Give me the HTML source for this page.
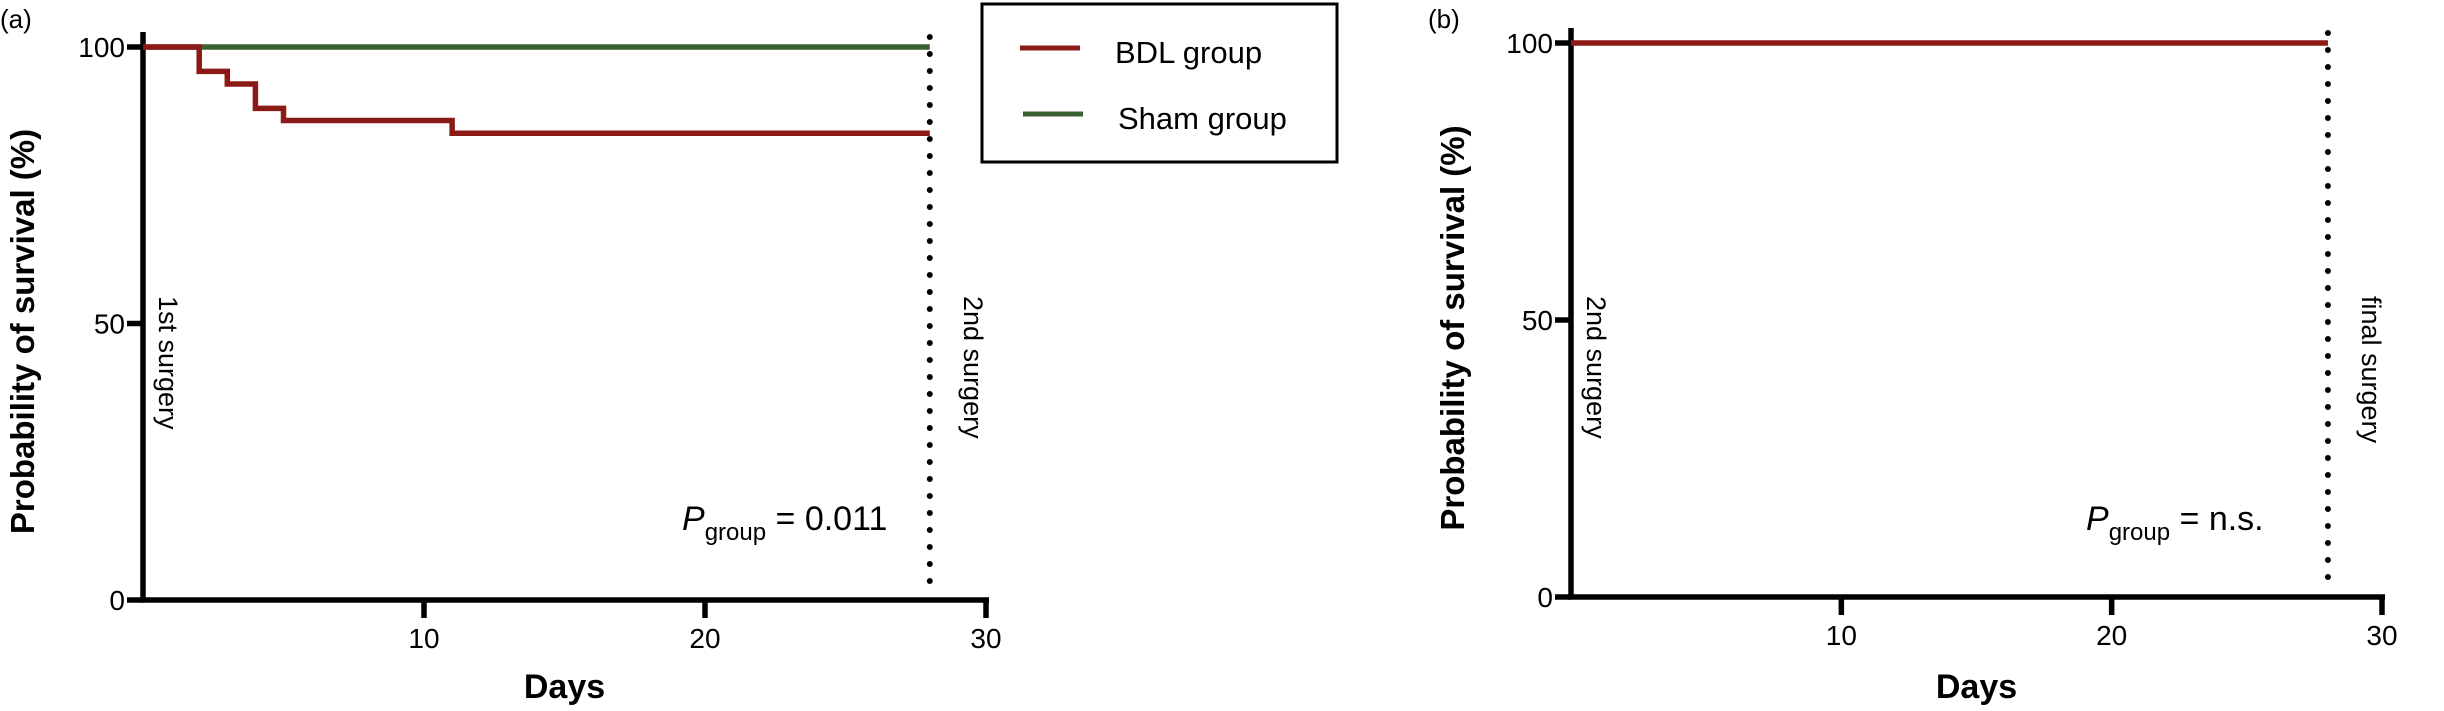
<!DOCTYPE html>
<html><head><meta charset="utf-8"><style>
html,body{margin:0;padding:0;background:#fff;}
svg{display:block;font-family:"Liberation Sans",Arial,sans-serif;}
</style></head><body>
<svg id="chart" width="2444" height="711" viewBox="0 0 2444 711">
<g id="panelA"></g>
<g id="panelB"></g>
<g>
  <rect x="982" y="4" width="355" height="158" fill="none" stroke="#000" stroke-width="3"/>
  <line x1="1020" y1="48" x2="1080" y2="48" stroke="#8b1a17" stroke-width="5"/>
  <text x="1115" y="63" font-size="31">BDL group</text>
  <line x1="1023" y1="114" x2="1083" y2="114" stroke="#3c6130" stroke-width="5"/>
  <text x="1118" y="129" font-size="31">Sham group</text>
</g>
</svg>
<script>
const xTicks=[10,20,30];
const yTicks=[0,50,100];
const bdlDaysA=[0,2,3,4,5,11,28];
const bdlSurvA=[100,95.6,93.3,88.9,86.7,84.4,84.4];
const shamDaysA=[0,28];
const shamSurvA=[100,100];
const bdlDaysB=[0,28];
const bdlSurvB=[100,100];
const NS="http://www.w3.org/2000/svg";
function mk(parent,tag,attrs,text){const e=document.createElementNS(NS,tag);for(const k in attrs)e.setAttribute(k,attrs[k]);if(text!==undefined)e.textContent=text;parent.appendChild(e);return e;}
function stepPath(xs,ys,sx,sy){let d="M"+sx(xs[0])+","+sy(ys[0]);for(let i=1;i<xs.length;i++){d+=" H"+sx(xs[i])+" V"+sy(ys[i]);}return d;}
function panel(g,cfg){
  const sx=v=>cfg.x0+(cfg.x1-cfg.x0)*v/30;
  const sy=v=>cfg.y0+(cfg.y1-cfg.y0)*v/100;
  let t=mk(g,'text',{x:cfg.letterX,y:28,'font-size':26},cfg.letter);
  
  
  yTicks.forEach(v=>{
    const l=mk(g,'line',{x1:cfg.x0-16,x2:cfg.x0,y1:sy(v),y2:sy(v),stroke:'#000','stroke-width':5.5});
    
    
    const tt=mk(g,'text',{x:cfg.x0-18,y:sy(v)+10,'font-size':28,'text-anchor':'end'},String(v));
    
    
  });
  xTicks.forEach(v=>{
    const l=mk(g,'line',{x1:sx(v),x2:sx(v),y1:cfg.y0,y2:cfg.y0+18,stroke:'#000','stroke-width':5.5});
    
    
    const tt=mk(g,'text',{x:sx(v),y:cfg.y0+48,'font-size':28,'text-anchor':'middle'},String(v));
    
    
  });
  const ax=mk(g,'path',{d:`M${cfg.x0},${cfg.y1-15} V${cfg.y0} H${cfg.x1+3}`,fill:'none',stroke:'#000','stroke-width':5.5});
  
  
  const dl=mk(g,'line',{x1:sx(28),x2:sx(28),y1:cfg.y1-10,y2:cfg.y0-3,stroke:'#000','stroke-width':6,'stroke-dasharray':'0 17','stroke-linecap':'round'});
  
  
  cfg.series.forEach(s=>{
    const p=mk(g,'path',{d:stepPath(s.x,s.y,sx,sy),fill:'none',stroke:s.color,'stroke-width':5.5});
    
    
  });
  const yl=mk(g,'text',{x:0,y:0,'font-size':33,'font-weight':'bold','text-anchor':'middle',transform:`translate(${cfg.ylabX},${(cfg.y0+cfg.y1)/2+8}) rotate(-90)`},'Probability of survival (%)');
  
  
  const xl=mk(g,'text',{x:(cfg.x0+cfg.x1)/2,y:698,'font-size':34,'font-weight':'bold','text-anchor':'middle'},'Days');
  
  
  const a1=mk(g,'text',{x:0,y:0,'font-size':27,transform:`translate(${cfg.x0+16},296) rotate(90)`},cfg.startLbl);
  
  
  const a2=mk(g,'text',{x:0,y:0,'font-size':27,transform:`translate(${sx(28)+34},296) rotate(90)`},cfg.endLbl);
  
  
  const pt=mk(g,'text',{x:cfg.px,y:530,'font-size':34});
  
  
  mk(pt,'tspan',{'font-style':'italic'},'P');
  mk(pt,'tspan',{'font-size':24,dy:10},'group');
  mk(pt,'tspan',{dy:-10},' = '+cfg.pval);
}
panel(document.getElementById('panelA'),{x0:143,x1:986,y0:600,y1:47,letter:'(a)',letterX:0,ylabX:34,startLbl:'1st surgery',endLbl:'2nd surgery',pval:'0.011',px:682,
  series:[{x:shamDaysA,y:shamSurvA,color:'#3c6130',name:'sham-curve'},{x:bdlDaysA,y:bdlSurvA,color:'#8b1a17',name:'bdl-curve'}]});
panel(document.getElementById('panelB'),{x0:1571,x1:2382,y0:597,y1:43,letter:'(b)',letterX:1428,ylabX:1464,startLbl:'2nd surgery',endLbl:'final surgery',pval:'n.s.',px:2086,
  series:[{x:bdlDaysB,y:bdlSurvB,color:'#8b1a17',name:'bdl-curve-b'}]});
</script>
</body></html>
